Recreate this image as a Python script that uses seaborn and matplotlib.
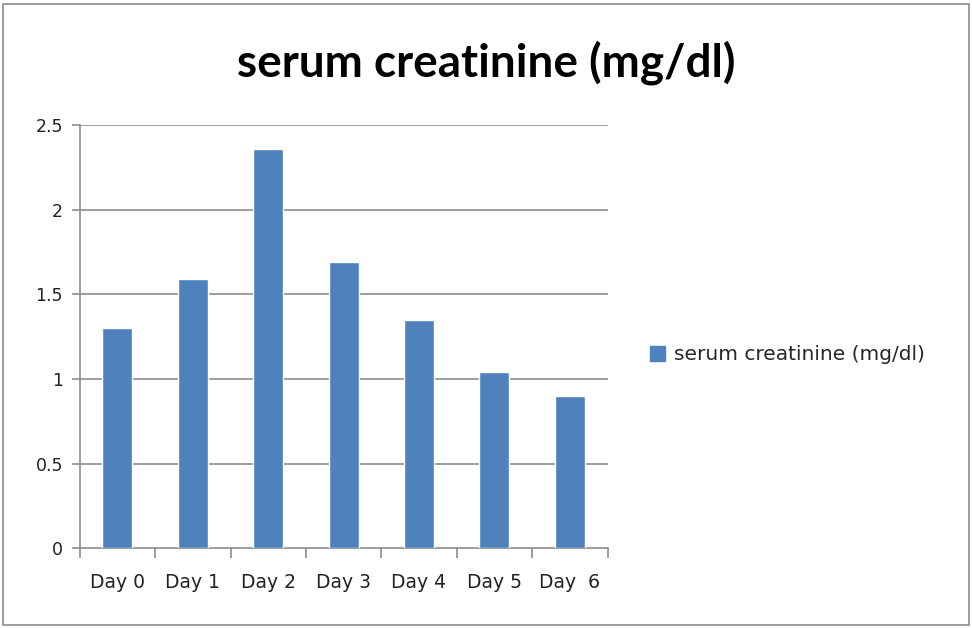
import numpy as np
import pandas as pd
import matplotlib.pyplot as plt
import matplotlib.patches as mpatches
import seaborn as sns

# values
days = ["Day 0", "Day 1", "Day 2", "Day 3", "Day 4", "Day 5", "Day  6"]
creatinine = [1.3, 1.59, 2.36, 1.69, 1.35, 1.04, 0.9]
y_ticks = [0, 0.5, 1, 1.5, 2, 2.5]
y_labels = ["0", "0.5", "1", "1.5", "2", "2.5"]
series_name = "serum creatinine (mg/dl)"

sns.set_theme(style="white")
plt.rcParams["font.family"] = ["DejaVu Sans"]

df = pd.DataFrame({"day": days, "value": creatinine})

fig = plt.figure(figsize=(9.72, 6.28), dpi=100)
ax = fig.add_axes([0.082, 0.127, 0.543, 0.674])

bar_color = "#4F81BD"
sns.barplot(data=df, x="day", y="value", color=bar_color, width=0.4,
            saturation=1, ax=ax, zorder=3)

ax.set_ylim(0, 2.5)
ax.set_xlim(-0.5, len(days) - 0.5)
ax.set_yticks(y_ticks)
ax.set_yticklabels(y_labels)
ax.set_xlabel("")
ax.set_ylabel("")

# gridlines like the original chart
grid_col = "#8c8c8c"
for v in y_ticks[1:]:
    ax.axhline(v, color=grid_col, lw=1.2, zorder=1)

for side in ["top", "right"]:
    ax.spines[side].set_visible(False)
for side in ["left", "bottom"]:
    ax.spines[side].set_color(grid_col)
    ax.spines[side].set_linewidth(1.2)

# tick marks sit between the categories on the x axis
ax.set_xticks(np.arange(-0.5, len(days)), minor=True)
ax.tick_params(axis="x", which="major", length=0, labelsize=13.5, pad=18,
               colors="#222222")
ax.tick_params(axis="x", which="minor", length=7, width=1.2, color=grid_col,
               direction="out", bottom=True)
ax.tick_params(axis="y", length=6, width=1.2, color=grid_col, direction="out",
               left=True, labelsize=12.5, colors="#222222", pad=6)

fig.suptitle(series_name, x=0.5, y=0.935, fontsize=33, fontweight="bold",
             color="black", family=["Lato", "DejaVu Sans"])

handle = mpatches.Patch(color=bar_color, label=series_name)
fig.legend(handles=[handle], loc="center left", bbox_to_anchor=(0.65, 0.435),
           frameon=False, fontsize=14.5, handlelength=0.75, handleheight=0.75,
           handletextpad=0.45)

# outer chart border
fig.patches.append(mpatches.Rectangle((0.003, 0.004), 0.994, 0.99,
                                      transform=fig.transFigure, fill=False,
                                      edgecolor="#8c8c8c", lw=1.2))

fig.savefig("out.png", dpi=100)
